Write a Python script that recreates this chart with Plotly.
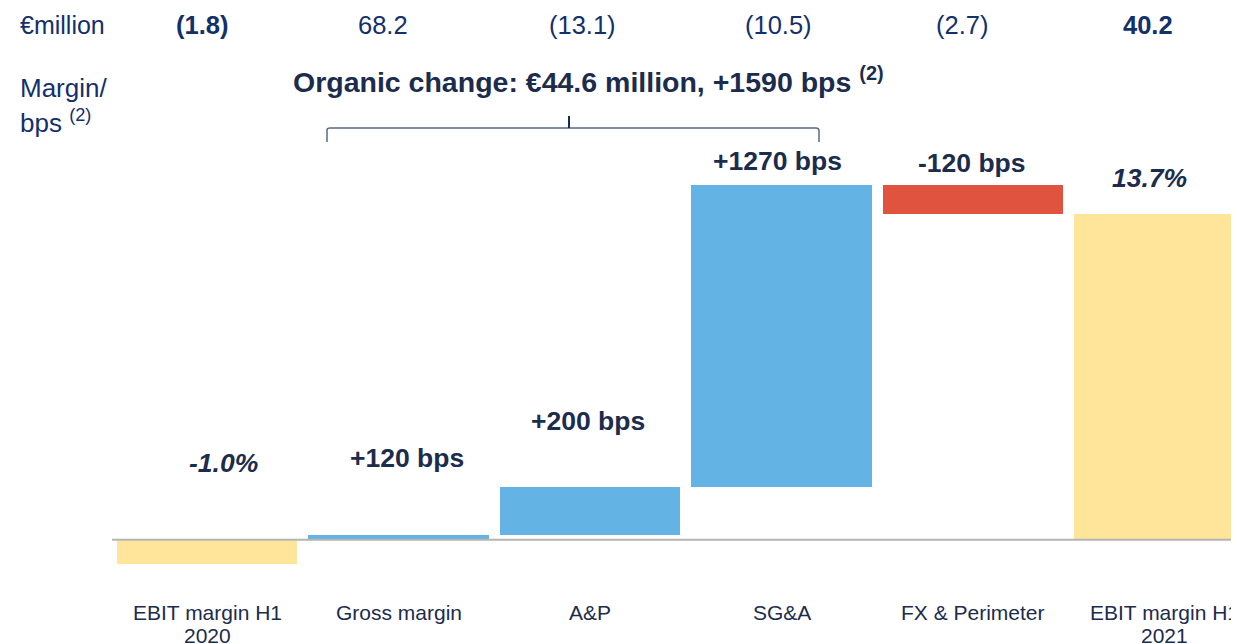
import plotly.graph_objects as go

# data
categories = ["EBIT margin H1<br>2020", "Gross margin", "A&P", "SG&A", "FX & Perimeter", "EBIT margin H1<br>2021"]
measures = ["total", "relative", "relative", "relative", "relative", "total"]
margin_pts = [-1.0, 1.2, 2.0, 12.7, -1.2, 13.7]
bar_labels = ["-1.0%", "+120 bps", "+200 bps", "+1270 bps", "-120 bps", "13.7%"]
eur_million = ["(1.8)", "68.2", "(13.1)", "(10.5)", "(2.7)", "40.2"]

# page has an 8px body margin, so the figure is a bit smaller and everything shifted
OFF = 8
W, H = 1239 - OFF, 644 - OFF
NAVY = "#13306b"
DARK = "#1c2c4c"
YELLOW = "#ffe599"
BLUE = "#63b4e4"
RED = "#e0533e"

# build waterfall bases (relative bars crossing zero are drawn from zero, as in the slide)
bases, heights, colors, tops = [], [], [], []
running = 0
for v, m in zip(margin_pts, measures):
    if m == "total":
        start, end = 0, v
        col = YELLOW
    else:
        start, end = running, running + v
        col = BLUE if v > 0 else RED
    running = end
    lo, hi = min(start, end), max(start, end)
    if m == "relative" and lo < 0 < hi:
        lo = 0
    bases.append(lo)
    heights.append(hi - lo)
    colors.append(col)
    tops.append(max(hi, 0))

xs = list(range(len(categories)))

fig = go.Figure(go.Bar(x=xs, y=heights, base=bases, marker_color=colors,
                       marker_line_width=0, width=0.945, hoverinfo="skip"))

def px(x):
    return (x - OFF) / W

def py(y):
    return 1 - (y - OFF) / H

# axis geometry: category step 191.5px, first centre at x=207, zero at y=539.7, 23.8px per point
step, c0, zero_y, ppu = 191.5, 207 - OFF, 539.7 - OFF, 23.8
x_range = [-c0 / step, (W - c0) / step]
y_range = [-(H - zero_y) / ppu, zero_y / ppu]

ann = []
FONT = "Liberation Sans, Arial, sans-serif"

# top row: EUR million
ann.append(dict(x=px(18), y=py(25), xref="paper", yref="paper", text="€million",
                xanchor="left", yanchor="middle", showarrow=False,
                font=dict(size=25, color=NAVY, family=FONT)))
top_shift = [-5, -16, -8, -3, -11, -17]
for i, t in enumerate(eur_million):
    txt = f"<b>{t}</b>" if i in (0, len(eur_million) - 1) else t
    ann.append(dict(x=i, y=py(25), xref="x", yref="paper", text=txt, xshift=top_shift[i],
                    xanchor="center", yanchor="middle", showarrow=False,
                    font=dict(size=25.5, color=NAVY, family=FONT)))

# margin/bps label
ann.append(dict(x=px(18), y=py(88), xref="paper", yref="paper", text="Margin/",
                xanchor="left", yanchor="middle", showarrow=False,
                font=dict(size=26, color=NAVY, family=FONT)))
ann.append(dict(x=px(18), y=py(121), xref="paper", yref="paper", text="bps <sup>(2)</sup>",
                xanchor="left", yanchor="middle", showarrow=False,
                font=dict(size=26, color=NAVY, family=FONT)))

# organic change header
ann.append(dict(x=px(291), y=py(80), xref="paper", yref="paper",
                text="<b>Organic change: €44.6 million, +1590 bps <sup>(2)</sup></b>",
                xanchor="left", yanchor="middle", showarrow=False,
                font=dict(size=28.5, color=DARK, family=FONT)))

# bar labels
lab_dx = [16, 8, -2, -4, -1, -15]
lab_dy = [77, 77, 66, 24, 22, 36]
for i, t in enumerate(bar_labels):
    txt = f"<b><i>{t}</i></b>" if measures[i] == "total" else f"<b>{t}</b>"
    ann.append(dict(x=i, y=tops[i], xref="x", yref="y", text=txt,
                    xshift=lab_dx[i], yshift=lab_dy[i],
                    xanchor="center", yanchor="middle", showarrow=False,
                    font=dict(size=26.5, color=DARK, family=FONT)))

# category labels (two lines drawn separately to keep tight spacing)
for i, c in enumerate(categories):
    for j, line in enumerate(c.split("<br>")):
        ann.append(dict(x=i, y=py(612 + 23 * j), xref="x", yref="paper", text=line,
                        xanchor="center", yanchor="middle", showarrow=False,
                        font=dict(size=21, color=DARK, family=FONT)))

shapes = [
    # zero line
    dict(type="line", xref="paper", yref="y", x0=px(112), x1=1, y0=0, y1=0,
         line=dict(color="#b4b4b4", width=2)),
    # bracket
    dict(type="path", xref="paper", yref="paper",
         path=f"M {px(327)},{py(142)} L {px(327)},{py(130)} Q {px(327)},{py(128)} {px(330)},{py(128)} "
              f"L {px(816)},{py(128)} Q {px(819)},{py(128)} {px(819)},{py(131)} L {px(819)},{py(142)}",
         line=dict(color="#5b6a84", width=1.5)),
    dict(type="line", xref="paper", yref="paper", x0=px(569), x1=px(569), y0=py(128), y1=py(116),
         line=dict(color="#1c2c4c", width=2)),
]

fig.update_layout(
    width=W, height=H,
    margin=dict(l=0, r=0, t=0, b=0),
    paper_bgcolor="white", plot_bgcolor="white",
    showlegend=False,
    xaxis=dict(range=x_range, visible=False, fixedrange=True),
    yaxis=dict(range=y_range, visible=False, fixedrange=True),
    annotations=ann,
    shapes=shapes,
    bargap=0,
)

fig.write_html("out.html")
